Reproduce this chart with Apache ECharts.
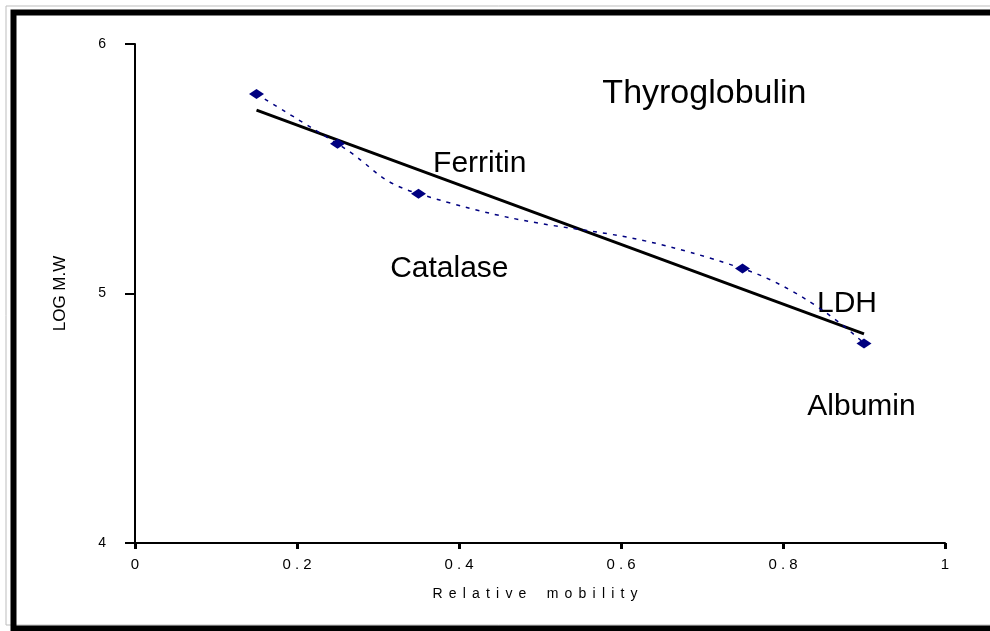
<!DOCTYPE html>
<html><head><meta charset="utf-8">
<script src="https://cdn.jsdelivr.net/npm/echarts@6/dist/echarts.min.js"></script>
<style>html,body{margin:0;padding:0;background:#fff}#c{width:990px;height:631px;position:relative}</style>
</head><body><div id="c"></div>
<script>
const mobility = [0.15, 0.25, 0.35, 0.75, 0.9];
const logMW = [5.8, 5.6, 5.4, 5.1, 4.8];
const trendX = [0.15, 0.9];
const trendY = [5.735, 4.838];
const proteinNames = ['Thyroglobulin', 'Ferritin', 'Catalase', 'LDH', 'Albumin'];
const nameX = [0.577, 0.368, 0.315, 0.842, 0.830];
const nameY = [5.80, 5.52, 5.10, 4.96, 4.545];
const xTicks = [0, 0.2, 0.4, 0.6, 0.8, 1];
const yTicks = [4, 5, 6];
const xTitle = 'Relative mobility';
const yTitle = 'LOG M.W';

// spaced-out letters, as in the original
const spaced = s => s.split('').map(ch => ch === ' ' ? '{w|  }' : '{c|' + ch + '}').join('{g| }');

const chart = echarts.init(document.getElementById('c'), null, {renderer: 'canvas'});
const FONT = '"Liberation Sans", Arial, sans-serif';
chart.setOption({
  animation: false,
  backgroundColor: '#fff',
  textStyle: {color: '#000', fontFamily: FONT},
  graphic: [
    {type: 'rect', shape: {x: 6, y: 6, width: 990, height: 619}, style: {fill: 'none', stroke: '#bdbdbd', lineWidth: 1}},
    {type: 'rect', shape: {x: 13.5, y: 12.5, width: 990, height: 616}, style: {fill: 'none', stroke: '#000', lineWidth: 6}}
  ],
  grid: {left: 135, right: 45, top: 44, bottom: 88, containLabel: false},
  xAxis: {
    type: 'value', min: 0, max: 1, interval: 0.2,
    name: spaced(xTitle), nameLocation: 'middle', nameGap: 44,
    nameTextStyle: {fontFamily: FONT, fontSize: 14, color: '#000', padding: [0, 10, 0, 0],
      rich: {c: {fontFamily: FONT, fontSize: 14, color: '#000'},
             g: {fontFamily: FONT, fontSize: 14, width: 6.2},
             w: {fontFamily: FONT, fontSize: 14, width: 8}}},
    axisLine: {show: true, onZero: false, lineStyle: {color: '#000', width: 2}},
    axisTick: {show: true, inside: false, length: 6, lineStyle: {color: '#000', width: 3}},
    splitLine: {show: false},
    axisLabel: {margin: 14, fontFamily: FONT, fontSize: 15, color: '#000',
      formatter: v => String(xTicks.find(t => Math.abs(t - v) < 1e-9) ?? v).split('').join(' ')}
  },
  yAxis: {
    type: 'value', min: 4, max: 6, interval: 1,
    name: yTitle, nameLocation: 'middle', nameGap: 66, nameRotate: 90,
    nameTextStyle: {fontFamily: FONT, fontSize: 17, color: '#000'},
    axisLine: {show: true, onZero: false, lineStyle: {color: '#000', width: 2}},
    axisTick: {show: true, inside: false, length: 10, lineStyle: {color: '#000', width: 2}},
    splitLine: {show: false},
    axisLabel: {margin: 29, fontFamily: FONT, fontSize: 14, color: '#000',
      formatter: v => String(yTicks.find(t => t === v) ?? v)}
  },
  series: [
    {
      type: 'line', smooth: true, data: mobility.map((x, i) => [x, logMW[i]]),
      symbol: 'diamond', symbolSize: [15, 10],
      itemStyle: {color: '#000080'},
      lineStyle: {color: '#000080', width: 1.5, type: [4, 6]},
      z: 3
    },
    {
      type: 'line', data: trendX.map((x, i) => [x, trendY[i]]),
      symbol: 'none', lineStyle: {color: '#000', width: 3}, z: 2
    },
    {
      type: 'scatter', symbolSize: 0, silent: true, itemStyle: {color: '#000', opacity: 1},
      data: proteinNames.map((n, i) => ({value: [nameX[i], nameY[i]], name: n})),
      label: {show: true, position: 'right', distance: 0,
        formatter: p => (p.name === 'Thyroglobulin' ? '{big|' : '{norm|') + p.name + '}',
        rich: {big: {fontFamily: FONT, fontSize: 34, color: '#000'},
               norm: {fontFamily: FONT, fontSize: 30, color: '#000'}},
        color: '#000', opacity: 1, align: 'left', verticalAlign: 'middle'}
    }
  ]
});
</script></body></html>
